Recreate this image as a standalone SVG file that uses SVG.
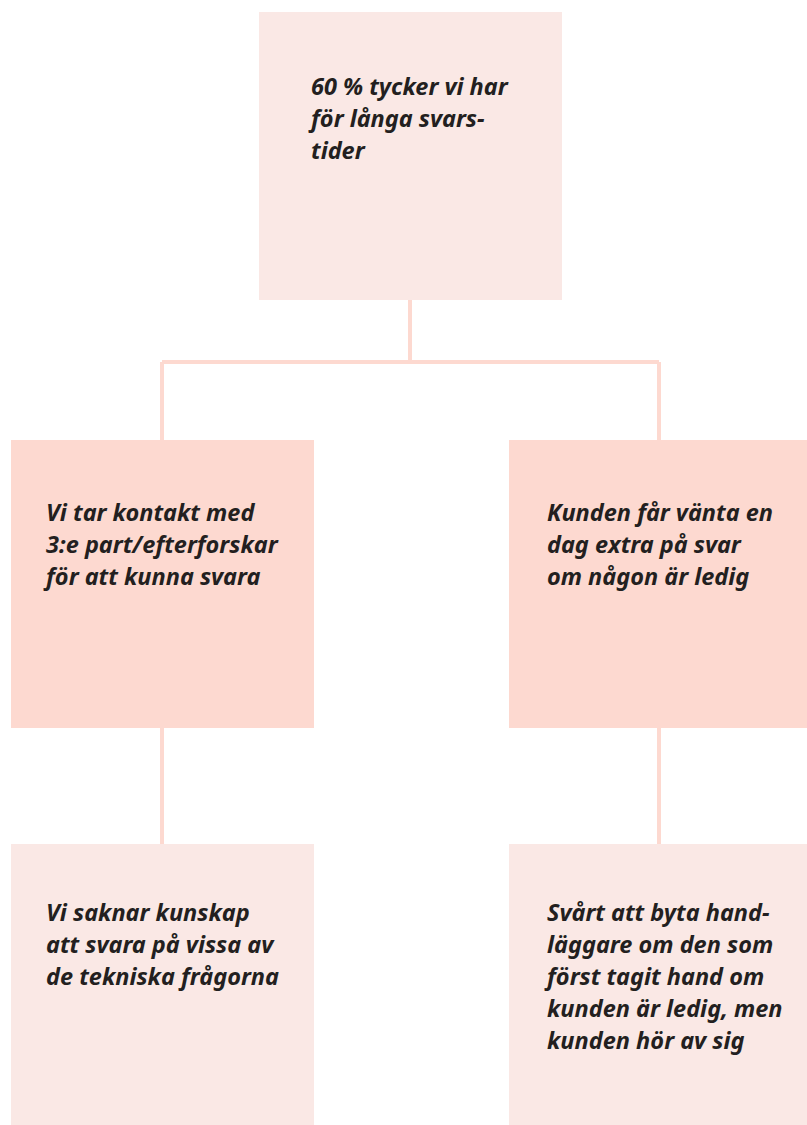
<svg xmlns="http://www.w3.org/2000/svg" width="807" height="1125" viewBox="0 0 807 1125">
<style>
.light{fill:#FAE8E5}
.mid{fill:#FDD9D0}
.conn{stroke:#FDD9D0;stroke-width:4;fill:none}
text{font-family:"Noto Sans","DejaVu Sans",sans-serif;font-weight:bold;font-style:italic;font-size:23.5px;fill:#231F20}
</style>
<rect width="807" height="1125" fill="#FFFFFF"/>
<g id="connectors">
<path class="conn" d="M410 300V362M162 362H659M162 362V440M659 362V440M162 728V844M659 728V844"/>
</g>
<g id="n-top">
<rect class="light" x="259" y="12" width="303" height="288"/>
<text x="311"><tspan x="311" y="95">60 % tycker vi har</tspan><tspan x="311" y="127">för långa svars-</tspan><tspan x="311" y="159">tider</tspan></text>
</g>
<g id="n-left">
<rect class="mid" x="11" y="440" width="303" height="288"/>
<text><tspan x="46" y="521">Vi tar kontakt med</tspan><tspan x="46" y="553">3:e part/efterforskar</tspan><tspan x="46" y="585">för att kunna svara</tspan></text>
</g>
<g id="n-right">
<rect class="mid" x="509" y="440" width="303" height="288"/>
<text><tspan x="547" y="521">Kunden får vänta en</tspan><tspan x="547" y="553">dag extra på svar</tspan><tspan x="547" y="585">om någon är ledig</tspan></text>
</g>
<g id="n-bottom-left">
<rect class="light" x="11" y="844" width="303" height="281"/>
<text><tspan x="46" y="921">Vi saknar kunskap</tspan><tspan x="46" y="953">att svara på vissa av</tspan><tspan x="46" y="985">de tekniska frågorna</tspan></text>
</g>
<g id="n-bottom-right">
<rect class="light" x="509" y="844" width="303" height="281"/>
<text><tspan x="547" y="921">Svårt att byta hand-</tspan><tspan x="547" y="953">läggare om den som</tspan><tspan x="547" y="985">först tagit hand om</tspan><tspan x="547" y="1017">kunden är ledig, men</tspan><tspan x="547" y="1049">kunden hör av sig</tspan></text>
</g>
</svg>
